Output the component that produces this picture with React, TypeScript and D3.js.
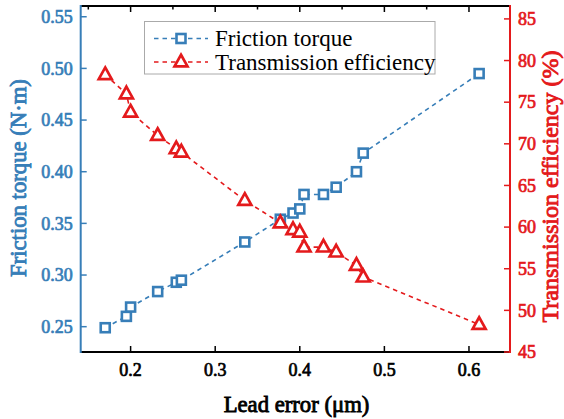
import React from "react";
import * as d3 from "d3";

const leadError = [0.170, 0.195, 0.200, 0.232, 0.254, 0.260, 0.335, 0.377, 0.392, 0.400, 0.405, 0.428, 0.443, 0.467, 0.475, 0.612];
const frictionTorque = [0.249, 0.260, 0.269, 0.284, 0.293, 0.295, 0.332, 0.354, 0.360, 0.364, 0.378, 0.378, 0.385, 0.400, 0.418, 0.495];
const efficiency = [78.3, 76.0, 73.8, 71.0, 69.4, 69.0, 63.2, 60.5, 59.7, 59.4, 57.6, 57.6, 57.0, 55.4, 54.0, 48.3];
const xTicks = [0.2, 0.3, 0.4, 0.5, 0.6];
const xMinorTicks = [0.15, 0.25, 0.35, 0.45, 0.55];
const yLeftTicks = [0.25, 0.30, 0.35, 0.40, 0.45, 0.50, 0.55];
const yRightTicks = [45, 50, 55, 60, 65, 70, 75, 80, 85];
const seriesNames = ["Friction torque", "Transmission efficiency"];

const BLUE = "#377eb8";
const RED = "#e41a1c";
const FONT = "Liberation Serif";

export default function App() {
  const W = 564, H = 419;
  const L = 80.7, R = 510, T = 6, B = 352;
  const x = d3.scaleLinear().domain([0.141, 0.6485]).range([L, R]);
  const yL = d3.scaleLinear().domain([0.2255, 0.5604]).range([B, T]);
  const yR = d3.scaleLinear().domain([45, 86.55]).range([B, T]);

  const torqueLine = d3.line<number>().x((_, i) => x(leadError[i])).y((d) => yL(d))(frictionTorque) || "";
  const effLine = d3.line<number>().x((_, i) => x(leadError[i])).y((d) => yR(d))(efficiency) || "";

  const sq = 9;
  const tri = (cx: number, cy: number, s: number) => {
    const h = s * 0.9;
    return `M${cx},${cy - h * 0.62} L${cx + s / 2},${cy + h * 0.38} L${cx - s / 2},${cy + h * 0.38} Z`;
  };

  const bold = (color: string, size: number, sw = 0.7) => ({
    fontFamily: FONT, fontSize: size, fill: color, stroke: color, strokeWidth: sw,
  });

  return (
    <div style={{ position: "absolute", left: 0, top: 0 }}>
      <svg width={W} height={H} style={{ display: "block", background: "#fff" }}>
        {/* lines */}
        <path d={torqueLine} fill="none" stroke={BLUE} strokeWidth={1.6} strokeDasharray="4.5,4" />
        <path d={effLine} fill="none" stroke={RED} strokeWidth={1.6} strokeDasharray="4.5,4" />
        {/* markers */}
        {frictionTorque.map((v, i) => (
          <rect key={"s" + i} x={x(leadError[i]) - sq / 2} y={yL(v) - sq / 2} width={sq} height={sq}
            fill="#fff" stroke={BLUE} strokeWidth={2.6} />
        ))}
        {efficiency.map((v, i) => (
          <path key={"t" + i} d={tri(x(leadError[i]), yR(v), 13)} fill="#fff" stroke={RED} strokeWidth={2.7} />
        ))}

        {/* top axis */}
        <line x1={L} x2={R} y1={T} y2={T} stroke="#000" strokeWidth={2} />
        {xTicks.map((t) => (
          <line key={"tt" + t} x1={x(t)} x2={x(t)} y1={T} y2={T + 6} stroke="#000" strokeWidth={1.5} />
        ))}
        {xMinorTicks.map((t) => (
          <line key={"tm" + t} x1={x(t)} x2={x(t)} y1={T} y2={T + 3.5} stroke="#000" strokeWidth={1.5} />
        ))}

        {/* bottom axis */}
        <line x1={L} x2={R} y1={B} y2={B} stroke="#000" strokeWidth={2} />
        {xTicks.map((t) => (
          <g key={"bx" + t}>
            <line x1={x(t)} x2={x(t)} y1={B} y2={B - 6} stroke="#000" strokeWidth={1.5} />
            <text x={x(t)} y={B + 24} textAnchor="middle" {...bold("#000", 18)}>{t.toFixed(1)}</text>
          </g>
        ))}

        {/* left axis */}
        <line x1={L} x2={L} y1={T - 1} y2={B + 1} stroke={BLUE} strokeWidth={2} />
        {yLeftTicks.map((t) => (
          <g key={"yl" + t}>
            <line x1={L} x2={L + 6} y1={yL(t)} y2={yL(t)} stroke={BLUE} strokeWidth={1.5} />
            <text x={L - 8} y={yL(t)} dy="0.35em" textAnchor="end" {...bold(BLUE, 18)}>{t.toFixed(2)}</text>
          </g>
        ))}

        {/* right axis */}
        <line x1={R} x2={R} y1={T - 1} y2={B + 1} stroke={RED} strokeWidth={2} />
        {yRightTicks.map((t) => (
          <g key={"yr" + t}>
            <line x1={R} x2={R - 6} y1={yR(t)} y2={yR(t)} stroke={RED} strokeWidth={1.5} />
            <text x={R + 8} y={yR(t)} dy="0.35em" textAnchor="start" {...bold(RED, 18)}>{t}</text>
          </g>
        ))}

        {/* axis titles */}
        <text x={296.5} y={411.5} textAnchor="middle" {...bold("#000", 22.7, 0.85)}>Lead error (μm)</text>
        <text transform="translate(25.5,178) rotate(-90)" textAnchor="middle" {...bold(BLUE, 22.7, 0.85)}>Friction torque (N·m)</text>
        <text transform="translate(558,186.5) rotate(-90)" textAnchor="middle" {...bold(RED, 24, 0.9)}>Transmission efficiency (%)</text>

        {/* legend */}
        <rect x={144.5} y={21.5} width={290.5} height={52.5} fill="#fff" stroke="#aaa" strokeWidth={1} />
        {seriesNames.map((name, i) => {
          const cy = 38.5 + i * 23.5;
          return (
            <g key={name}>
              <line x1={154} x2={208} y1={cy} y2={cy} stroke={i === 0 ? BLUE : RED} strokeWidth={1.6} strokeDasharray="4.5,4" />
              {i === 0 ? (
                <rect x={181 - sq / 2} y={cy - sq / 2} width={sq} height={sq} fill="#fff" stroke={BLUE} strokeWidth={2.6} />
              ) : (
                <path d={tri(181, cy, 13)} fill="#fff" stroke={RED} strokeWidth={2.7} />
              )}
              <text x={215} y={cy} dy="0.33em" fill="#000" fontFamily={FONT} fontSize={23}>{name}</text>
            </g>
          );
        })}
      </svg>
    </div>
  );
}
